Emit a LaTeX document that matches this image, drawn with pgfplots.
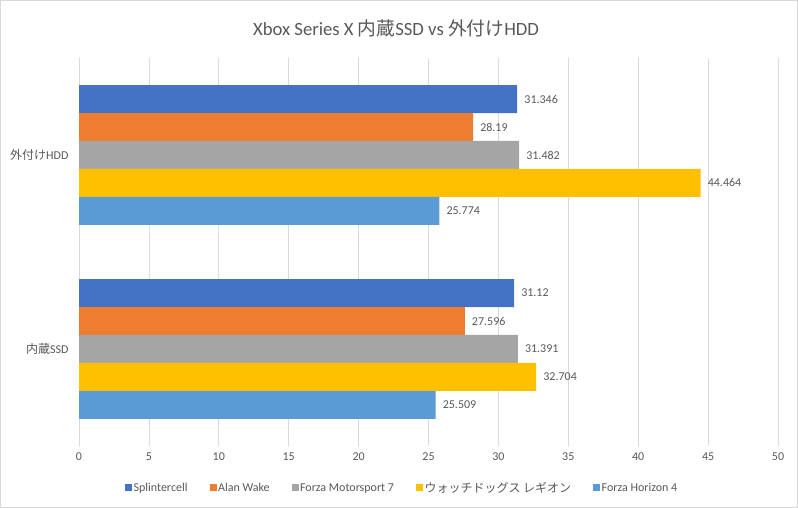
\documentclass[border=0pt]{standalone}
\usepackage{fontspec}
\setmainfont{Carlito}
\newfontfamily\jp{Noto Sans CJK JP}
\usepackage{pgfplots}
\pgfplotsset{compat=1.18}
\definecolor{txt}{HTML}{595959}
\definecolor{gridc}{HTML}{D9D9D9}
\definecolor{splinter}{HTML}{4472C4}
\definecolor{alanwake}{HTML}{ED7D31}
\definecolor{forzam}{HTML}{A5A5A5}
\definecolor{watchdogs}{HTML}{FFC000}
\definecolor{forzah}{HTML}{5B9BD5}
\newcommand{\bw}{0.1443}
\begin{document}
\begin{tikzpicture}[x=1pt,y=1pt]
\path[use as bounding box] (0,0) rectangle (798,508);
\draw[gridc, fill=white] (0.5,0.5) rectangle (797.5,507.5);
\node[text=txt, font=\fontsize{18.7}{22}\selectfont] at (396,480)
  {Xbox Series X {\jp 内蔵}SSD vs {\jp 外付け}HDD};
\begin{axis}[
    at={(79pt,62pt)}, anchor=south west,
    width=699pt, height=388pt, scale only axis,
    xbar=0pt, bar width=\bw,
    xmin=0, xmax=50, ymin=-0.5, ymax=1.5,
    xtick={0,5,...,50}, ytick={0,1},
    yticklabels={{\jp 内蔵}SSD,{\jp 外付け}HDD},
    xmajorgrids, grid style={gridc, line width=0.8pt},
    axis x line*=bottom, axis y line*=left,
    x axis line style={draw=none},
    y axis line style={gridc, line width=0.8pt},
    major tick length=0pt,
    ticklabel style={font=\fontsize{12}{14}\selectfont, text=txt},
    xticklabel style={yshift=-3pt},
    yticklabel style={xshift=-7pt},
    /pgf/number format/assume math mode=true,
    point meta=explicit symbolic,
    nodes near coords,
    every node near coord/.append style={font=\fontsize{12}{14}\selectfont, text=txt, anchor=west, inner sep=0pt, xshift=7pt},
    legend columns=5,
    legend style={at={(0.462,0)}, yshift=-42pt, anchor=center, draw=none, fill=none,
      font=\fontsize{12}{14}\selectfont, text=txt,
      /tikz/every even column/.append style={column sep=20.5pt},
      nodes={inner sep=1.5pt}},
    legend image code/.code={\fill[#1] (0pt,-3.5pt) rectangle (7pt,3.5pt);},
]
\addplot[fill=splinter, draw=none, bar shift=2*\bw] coordinates {(31.346,1) [31.346] (31.12,0) [31.12]};
\addplot[fill=alanwake, draw=none, bar shift=\bw] coordinates {(28.19,1) [28.19] (27.596,0) [27.596]};
\addplot[fill=forzam, draw=none, bar shift=0] coordinates {(31.482,1) [31.482] (31.391,0) [31.391]};
\addplot[fill=watchdogs, draw=none, bar shift=-\bw] coordinates {(44.464,1) [44.464] (32.704,0) [32.704]};
\addplot[fill=forzah, draw=none, bar shift=-2*\bw] coordinates {(25.774,1) [25.774] (25.509,0) [25.509]};
\legend{Splintercell, Alan Wake, Forza Motorsport 7, {\jp ウォッチドッグス レギオン}, Forza Horizon 4}
\end{axis}
\end{tikzpicture}
\end{document}
